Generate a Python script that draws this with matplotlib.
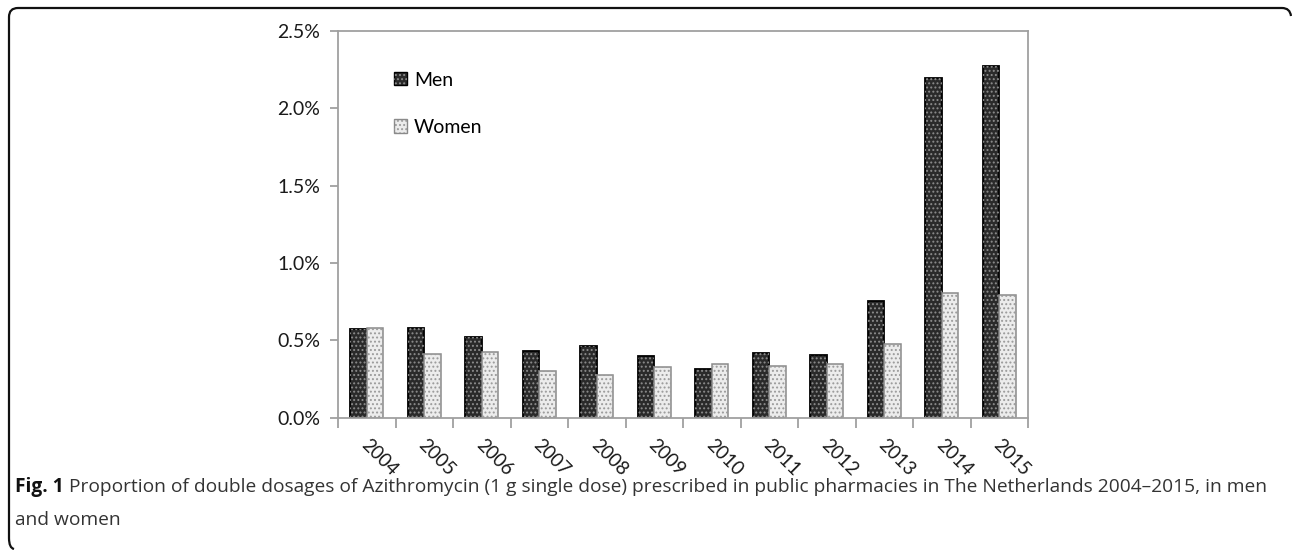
import numpy as np
import matplotlib
matplotlib.use("Agg")
from matplotlib import pyplot as plt
from matplotlib.patches import Patch, PathPatch
from matplotlib.path import Path
from matplotlib.legend_handler import HandlerTuple
from matplotlib.ticker import FuncFormatter
import matplotlib.transforms as mtransforms

years = ["2004", "2005", "2006", "2007", "2008", "2009",
         "2010", "2011", "2012", "2013", "2014", "2015"]
men = [0.571, 0.580, 0.519, 0.431, 0.466, 0.397,
       0.318, 0.418, 0.407, 0.757, 2.194, 2.272]
women = [0.580, 0.414, 0.423, 0.300, 0.273, 0.326,
         0.344, 0.337, 0.344, 0.476, 0.805, 0.795]

W, H = 1292, 550
plt.rcParams['font.family'] = ['Lato', 'DejaVu Sans']
plt.rcParams['hatch.linewidth'] = 0.9

fig = plt.figure(figsize=(W / 100, H / 100), dpi=100)
ax = fig.add_axes([338 / W, 1 - 417.7 / H, (1028 - 338) / W, (417.7 - 31) / H])

x = np.arange(len(years))
bw = 0.287

# men: dark base with light dots
ax.bar(x - bw / 2, men, bw, color='#2a2a2a', edgecolor='#000000', linewidth=1.3, zorder=2)
ax.bar(x - bw / 2, men, bw, facecolor='none', edgecolor='#8c8c8c', linewidth=0,
       hatch='....', zorder=3)
# women: light base with grey dots
ax.bar(x + bw / 2, women, bw, color='#ececec', edgecolor='#8a8a8a', linewidth=1.1, zorder=2)
ax.bar(x + bw / 2, women, bw, facecolor='none', edgecolor='#9a9a9a', linewidth=0,
       hatch='....', zorder=3)

ax.set_xlim(-0.5, len(years) - 0.5)
ax.set_ylim(0, 2.5)
ax.set_yticks(np.arange(0, 2.51, 0.5))
ax.yaxis.set_major_formatter(FuncFormatter(lambda v, p: "%.1f%%" % v))

# ticks at category borders, labels at centres
ax.set_xticks(np.arange(-0.5, len(years), 1.0))
ax.set_xticklabels([])
ax.set_xticks(x, minor=True)
ax.set_xticklabels(years, minor=True, rotation=-45, ha='left', va='top', fontsize=13.5)
ax.tick_params(axis='x', which='minor', length=0, pad=13)
ax.tick_params(axis='x', which='major', length=7, width=1.3, color='#a0a0a0', direction='out')
ax.tick_params(axis='y', length=6, width=1.3, color='#a0a0a0', labelsize=14, pad=7)
shift = mtransforms.ScaledTranslation(-9 / 100, 0, fig.dpi_scale_trans)
for lab in ax.get_xticklabels(minor=True):
    lab.set_transform(lab.get_transform() + shift)
    lab.set_color('#1a1a1a')
for lab in ax.get_yticklabels():
    lab.set_color('#1a1a1a')

for s in ax.spines.values():
    s.set_color('#a0a0a0')
    s.set_linewidth(1.3)

h_men = (Patch(facecolor='#2a2a2a', edgecolor='#000000', linewidth=1),
         Patch(facecolor='none', edgecolor='#8c8c8c', linewidth=0, hatch='....'))
h_women = (Patch(facecolor='#ececec', edgecolor='#8a8a8a', linewidth=1),
           Patch(facecolor='none', edgecolor='#9a9a9a', linewidth=0, hatch='....'))
ax.legend([h_men, h_women], ["Men", "Women"],
          handler_map={tuple: HandlerTuple(ndivide=1, pad=0)},
          loc='upper left', bbox_to_anchor=(0.081, 0.895), frameon=False, fontsize=14,
          handlelength=0.68, handleheight=0.68, handletextpad=0.35, labelspacing=1.55,
          borderpad=0, borderaxespad=0)

# rounded frame around figure + caption
def px(xp, yp):
    return (xp / W, 1 - yp / H)

verts = [px(1291, 16), px(1290, 8), px(1282, 8), px(18, 8), px(9, 8), px(9, 17),
         px(9, 538), px(9, 548), px(14, 549)]
codes = [Path.MOVETO, Path.CURVE3, Path.CURVE3, Path.LINETO, Path.CURVE3, Path.CURVE3,
         Path.LINETO, Path.CURVE3, Path.CURVE3]
fig.patches.append(PathPatch(Path(verts, codes), transform=fig.transFigure,
                             facecolor='none', edgecolor='#111111', linewidth=1.6))

cap_font = ['Open Sans', 'DejaVu Sans']
cap_size = 13.8
t1 = fig.text(15 / W, 1 - 492 / H, "Fig. 1", fontsize=cap_size, fontweight='bold',
              family=cap_font, color='#111111', va='baseline')
r = fig.canvas.get_renderer()
bb = t1.get_window_extent(renderer=r)
fig.text((bb.x1 + 5) / W, 1 - 492 / H,
         "Proportion of double dosages of Azithromycin (1 g single dose) prescribed in public "
         "pharmacies in The Netherlands 2004\u20132015, in men",
         fontsize=cap_size, family=cap_font, color='#333333', va='baseline')
fig.text(15 / W, 1 - 525 / H, "and women", fontsize=cap_size, family=cap_font,
         color='#333333', va='baseline')

fig.savefig("out.png", dpi=100)
